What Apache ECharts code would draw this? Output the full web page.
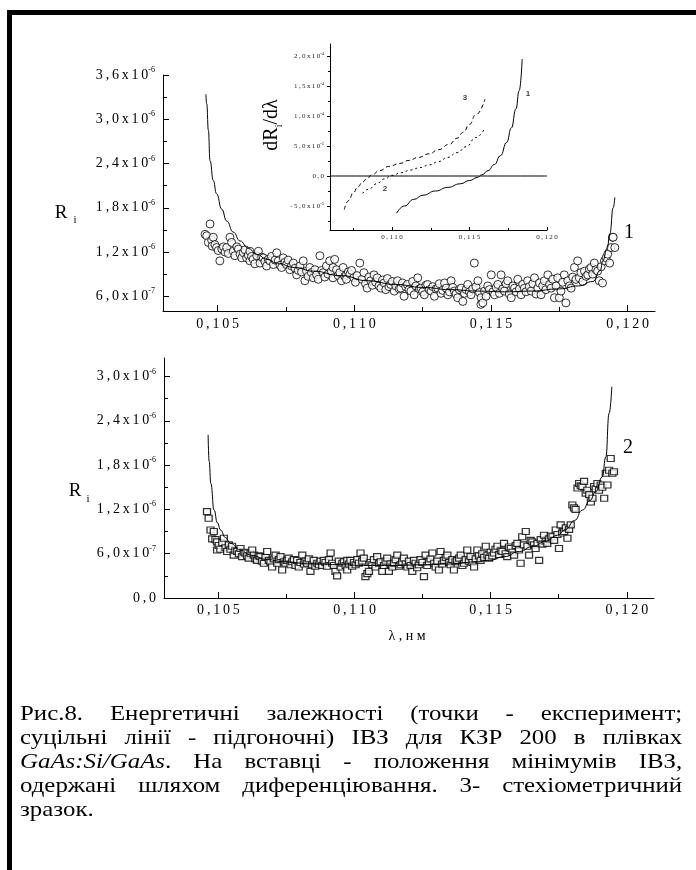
<!DOCTYPE html>
<html>
<head>
<meta charset="UTF-8">
<title>Рис.8</title>
<script src="https://cdn.jsdelivr.net/npm/echarts@6/dist/echarts.min.js"></script>
<style>
    html, body { margin: 0; padding: 0; background: #fff; }
    #page { position: relative; width: 696px; height: 870px; overflow: hidden; }
    #chart { position: absolute; left: 0; top: 0; width: 696px; height: 870px; }
    .bar { position: absolute; background: #000; }
    #caption {
        position: absolute; left: 20px; top: 701px; width: 586px;
        transform: scaleX(1.13); transform-origin: 0 0;
        font-family: "Liberation Serif", "Times New Roman", serif;
        font-size: 22px; line-height: 24px; color: #000;
    }
    #caption .ln { text-align: justify; text-align-last: justify; white-space: nowrap; }
    #caption .ln.last { text-align: left; text-align-last: left; }
</style>
</head>
<body>
<div id="page">
    <div id="chart"></div>
    <div class="bar" style="left:7px;top:10px;width:689px;height:5px"></div>
    <div class="bar" style="left:7px;top:10px;width:5px;height:860px"></div>
    <div id="caption">
        <div class="ln">Рис.8. Енергетичні залежності (точки - експеримент;</div>
        <div class="ln">суцільні лінії - підгоночні) ІВЗ для КЗР 200 в плівках</div>
        <div class="ln"><i>GaAs:Si/GaAs</i>. На вставці - положення мінімумів ІВЗ,</div>
        <div class="ln">одержані шляхом диференціювання. 3- стехіометричний</div>
        <div class="ln last">зразок.</div>
    </div>
</div>
<script>
// ---- осі ----
var wlMin = 0.103, wlMax = 0.121;
var wlMajor = [0.105, 0.110, 0.115, 0.120];
var wlMinor = [0.1075, 0.1125, 0.1175];

// R_i в одиницях 10^-6
var r1Min = 0.4, r1Max = 3.6;
var r1Major = [0.6, 1.2, 1.8, 2.4, 3.0, 3.6];
var r1Minor = [0.9, 1.5, 2.1, 2.7, 3.3];
var r2Min = 0, r2Max = 3.25;
var r2Major = [0, 0.6, 1.2, 1.8, 2.4, 3.0];
var r2Minor = [0.3, 0.9, 1.5, 2.1, 2.7];

// вставка: dR/dλ в одиницях 10^-5
var inXMin = 0.106, inXMax = 0.120;
var inXMajor = [0.110, 0.115, 0.120];
var inXMinor = [0.1075, 0.1125, 0.1175];
var inYMin = -9, inYMax = 22;
var inYMajor = [-5, 0, 5, 10, 15, 20];
var inYMinor = [-7.5, -2.5, 2.5, 7.5, 12.5, 17.5];

// ---- дані: зразок 1 (кружки) ----
var exp1 = [
[0.10454,1.44],[0.10460,1.42],[0.10466,1.33],[0.10472,1.58],[0.10478,1.36],[0.10480,1.28],[0.10484,1.40],[0.10490,1.30],
[0.10496,1.26],[0.10502,1.22],[0.10508,1.08],[0.10515,1.24],[0.10521,1.27],[0.10527,1.20],[0.10533,1.26],[0.10539,1.18],
[0.10545,1.40],[0.10551,1.33],[0.10557,1.21],[0.10563,1.15],[0.10570,1.27],[0.10576,1.24],[0.10582,1.17],[0.10588,1.12],
[0.10594,1.19],[0.10600,1.23],[0.10606,1.12],[0.10612,1.16],[0.10618,1.21],[0.10618,1.08],[0.10624,1.14],[0.10630,1.10],
[0.10636,1.04],[0.10643,1.15],[0.10649,1.21],[0.10655,1.05],[0.10661,1.13],[0.10667,1.12],[0.10673,1.07],[0.10679,1.01],
[0.10685,1.10],[0.10691,1.08],[0.10697,1.14],[0.10704,1.03],[0.10710,1.09],[0.10716,1.19],[0.10722,1.08],[0.10728,1.02],
[0.10734,0.99],[0.10740,1.12],[0.10746,1.06],[0.10752,1.03],[0.10758,1.09],[0.10764,0.96],[0.10770,1.01],[0.10777,1.05],
[0.10783,0.98],[0.10789,0.89],[0.10795,0.95],[0.10801,1.01],[0.10807,0.93],[0.10813,1.08],[0.10819,0.81],[0.10825,0.94],
[0.10831,0.87],[0.10837,0.99],[0.10843,0.92],[0.10850,0.85],[0.10856,0.96],[0.10862,0.89],[0.10868,0.83],[0.10874,1.15],
[0.10880,0.95],[0.10886,0.92],[0.10892,0.86],[0.10898,1.01],[0.10904,0.90],[0.10910,1.08],[0.10916,0.94],[0.10922,0.85],
[0.10922,0.99],[0.10928,1.10],[0.10935,0.96],[0.10941,0.88],[0.10947,0.92],[0.10953,0.81],[0.10959,0.99],[0.10965,0.87],
[0.10971,0.89],[0.10971,0.83],[0.10978,0.93],[0.10984,0.90],[0.10990,0.95],[0.10998,0.85],[0.11004,0.79],[0.11010,0.88],
[0.11020,1.05],[0.11028,0.83],[0.11035,0.92],[0.11041,0.77],[0.11047,0.71],[0.11053,0.86],[0.11060,0.81],[0.11066,0.75],
[0.11072,0.89],[0.11078,0.79],[0.11084,0.85],[0.11090,0.74],[0.11097,0.71],[0.11103,0.82],[0.11109,0.78],[0.11115,0.69],
[0.11121,0.84],[0.11127,0.73],[0.11133,0.76],[0.11139,0.80],[0.11146,0.67],[0.11152,0.74],[0.11158,0.81],[0.11164,0.70],
[0.11170,0.71],[0.11176,0.78],[0.11182,0.60],[0.11188,0.73],[0.11194,0.76],[0.11200,0.69],[0.11207,0.67],[0.11213,0.80],
[0.11219,0.62],[0.11225,0.74],[0.11232,0.85],[0.11238,0.70],[0.11244,0.71],[0.11250,0.66],[0.11256,0.62],[0.11262,0.75],
[0.11268,0.76],[0.11274,0.69],[0.11281,0.67],[0.11287,0.73],[0.11293,0.60],[0.11299,0.70],[0.11305,0.71],[0.11311,0.77],
[0.11317,0.64],[0.11323,0.68],[0.11330,0.78],[0.11336,0.71],[0.11342,0.62],[0.11348,0.66],[0.11354,0.81],[0.11360,0.72],
[0.11366,0.67],[0.11372,0.63],[0.11378,0.58],[0.11384,0.69],[0.11391,0.71],[0.11397,0.53],[0.11403,0.64],[0.11409,0.69],
[0.11415,0.76],[0.11421,0.66],[0.11427,0.62],[0.11433,0.70],[0.11439,1.05],[0.11445,0.73],[0.11452,0.81],[0.11458,0.65],
[0.11463,0.49],[0.11464,0.58],[0.11470,0.51],[0.11476,0.67],[0.11482,0.60],[0.11488,0.74],[0.11494,0.69],[0.11501,0.89],
[0.11507,0.66],[0.11513,0.62],[0.11519,0.72],[0.11525,0.76],[0.11531,0.64],[0.11537,0.89],[0.11543,0.70],[0.11549,0.67],
[0.11555,0.77],[0.11561,0.81],[0.11567,0.63],[0.11574,0.58],[0.11580,0.74],[0.11586,0.71],[0.11592,0.66],[0.11598,0.83],
[0.11604,0.70],[0.11610,0.62],[0.11616,0.76],[0.11622,0.71],[0.11628,0.66],[0.11634,0.81],[0.11640,0.73],[0.11647,0.67],
[0.11653,0.77],[0.11659,0.85],[0.11665,0.63],[0.11671,0.71],[0.11677,0.78],[0.11683,0.62],[0.11689,0.74],[0.11695,0.81],
[0.11701,0.69],[0.11708,0.89],[0.11714,0.76],[0.11720,0.71],[0.11726,0.83],[0.11732,0.58],[0.11738,0.74],[0.11744,0.85],
[0.11750,0.58],[0.11756,0.67],[0.11762,0.79],[0.11768,0.89],[0.11774,0.51],[0.11781,0.81],[0.11787,0.74],[0.11793,0.71],
[0.11799,0.86],[0.11805,0.99],[0.11811,0.83],[0.11817,1.08],[0.11823,0.85],[0.11829,0.92],[0.11836,0.80],[0.11842,0.94],
[0.11848,0.87],[0.11854,0.89],[0.11860,0.97],[0.11866,0.99],[0.11872,0.90],[0.11878,1.05],[0.11884,0.96],[0.11890,0.94],
[0.11896,0.81],[0.11903,1.00],[0.11908,0.78],[0.11915,1.08],[0.11921,1.12],[0.11927,1.17],[0.11934,1.05],[0.11939,1.26],
[0.11945,1.40],[0.11947,1.40],[0.11953,1.26]
];
var fit1 = [
[0.10457,3.34],[0.10460,3.21],[0.10466,2.85],[0.10472,2.44],[0.10484,2.17],[0.10496,1.99],[0.10515,1.78],[0.10533,1.62],
[0.10557,1.47],[0.10582,1.35],[0.10612,1.25],[0.10643,1.17],[0.10680,1.10],[0.10716,1.05],[0.10780,0.99],[0.10850,0.94],
[0.10950,0.88],[0.11050,0.81],[0.11150,0.76],[0.11250,0.72],[0.11350,0.69],[0.11450,0.67],[0.11550,0.66],[0.11650,0.67],
[0.11750,0.70],[0.11820,0.74],[0.11873,0.80],[0.11900,0.95],[0.11909,1.08],[0.11925,1.25],[0.11935,1.45],[0.11947,1.80],
[0.11953,1.94]
];

// ---- дані: зразок 2 (квадрати) ----
var exp2 = [
[0.10458,1.17],[0.10464,1.08],[0.10471,0.92],[0.10477,0.80],[0.10483,0.90],[0.10489,0.79],[0.10495,0.76],[0.10495,0.65],
[0.10501,0.71],[0.10507,0.66],[0.10514,0.75],[0.10520,0.81],[0.10526,0.68],[0.10532,0.63],[0.10538,0.72],[0.10544,0.66],
[0.10550,0.70],[0.10556,0.58],[0.10562,0.64],[0.10569,0.63],[0.10575,0.60],[0.10581,0.67],[0.10587,0.56],[0.10593,0.62],
[0.10599,0.61],[0.10605,0.57],[0.10611,0.54],[0.10618,0.60],[0.10624,0.65],[0.10630,0.58],[0.10636,0.53],[0.10642,0.51],
[0.10648,0.57],[0.10654,0.56],[0.10660,0.50],[0.10667,0.47],[0.10673,0.55],[0.10679,0.63],[0.10685,0.51],[0.10691,0.49],
[0.10697,0.42],[0.10703,0.53],[0.10710,0.58],[0.10716,0.47],[0.10722,0.52],[0.10728,0.56],[0.10734,0.38],[0.10740,0.49],
[0.10746,0.47],[0.10752,0.51],[0.10758,0.54],[0.10765,0.45],[0.10771,0.49],[0.10777,0.52],[0.10783,0.44],[0.10789,0.51],
[0.10795,0.42],[0.10801,0.48],[0.10808,0.58],[0.10814,0.46],[0.10820,0.50],[0.10826,0.47],[0.10832,0.53],[0.10838,0.36],
[0.10844,0.45],[0.10850,0.51],[0.10856,0.43],[0.10863,0.47],[0.10869,0.45],[0.10875,0.50],[0.10881,0.44],[0.10887,0.51],
[0.10893,0.48],[0.10899,0.43],[0.10906,0.52],[0.10912,0.61],[0.10918,0.47],[0.10924,0.44],[0.10930,0.36],[0.10936,0.30],
[0.10942,0.50],[0.10949,0.42],[0.10955,0.47],[0.10961,0.49],[0.10967,0.44],[0.10973,0.38],[0.10973,0.51],[0.10979,0.46],
[0.10985,0.51],[0.10991,0.43],[0.10998,0.48],[0.11004,0.45],[0.11010,0.52],[0.11016,0.47],[0.11022,0.61],[0.11028,0.50],
[0.11034,0.54],[0.11040,0.29],[0.11047,0.33],[0.11053,0.36],[0.11059,0.48],[0.11065,0.45],[0.11071,0.52],[0.11077,0.42],
[0.11083,0.56],[0.11090,0.47],[0.11096,0.49],[0.11102,0.36],[0.11108,0.44],[0.11114,0.50],[0.11120,0.54],[0.11126,0.36],
[0.11132,0.46],[0.11139,0.42],[0.11145,0.47],[0.11151,0.52],[0.11157,0.58],[0.11163,0.43],[0.11169,0.45],[0.11175,0.49],
[0.11181,0.54],[0.11188,0.46],[0.11194,0.42],[0.11200,0.50],[0.11206,0.44],[0.11212,0.36],[0.11218,0.51],[0.11224,0.47],
[0.11230,0.41],[0.11236,0.45],[0.11242,0.52],[0.11249,0.48],[0.11255,0.29],[0.11261,0.58],[0.11267,0.44],[0.11273,0.49],
[0.11279,0.53],[0.11286,0.61],[0.11292,0.47],[0.11298,0.42],[0.11304,0.50],[0.11310,0.38],[0.11316,0.63],[0.11322,0.46],
[0.11328,0.51],[0.11335,0.55],[0.11341,0.58],[0.11347,0.48],[0.11353,0.45],[0.11359,0.52],[0.11365,0.38],[0.11371,0.49],
[0.11377,0.51],[0.11384,0.54],[0.11390,0.58],[0.11396,0.44],[0.11402,0.47],[0.11408,0.52],[0.11414,0.65],[0.11420,0.50],
[0.11426,0.56],[0.11433,0.48],[0.11439,0.42],[0.11445,0.53],[0.11451,0.65],[0.11457,0.57],[0.11463,0.51],[0.11469,0.60],
[0.11476,0.55],[0.11482,0.70],[0.11488,0.58],[0.11494,0.54],[0.11500,0.62],[0.11506,0.57],[0.11512,0.61],[0.11518,0.66],
[0.11525,0.70],[0.11531,0.59],[0.11537,0.64],[0.11543,0.63],[0.11549,0.74],[0.11555,0.60],[0.11561,0.56],[0.11567,0.69],
[0.11574,0.67],[0.11580,0.62],[0.11586,0.58],[0.11592,0.71],[0.11598,0.74],[0.11604,0.65],[0.11610,0.47],[0.11616,0.83],
[0.11622,0.72],[0.11629,0.90],[0.11635,0.70],[0.11641,0.58],[0.11647,0.78],[0.11653,0.76],[0.11659,0.72],[0.11665,0.67],
[0.11672,0.74],[0.11678,0.51],[0.11684,0.79],[0.11690,0.73],[0.11696,0.85],[0.11702,0.77],[0.11708,0.74],[0.11714,0.80],
[0.11721,0.84],[0.11727,0.83],[0.11733,0.78],[0.11739,0.92],[0.11745,0.86],[0.11751,0.67],[0.11757,0.99],[0.11763,0.88],
[0.11770,0.90],[0.11776,0.95],[0.11782,0.81],[0.11788,0.93],[0.11794,0.99],[0.11800,1.26],[0.11806,1.22],[0.11812,1.20],
[0.11819,1.49],[0.11825,1.55],[0.11831,1.52],[0.11837,1.51],[0.11843,1.58],[0.11849,1.42],[0.11855,1.46],[0.11862,1.40],
[0.11868,1.30],[0.11874,1.35],[0.11880,1.51],[0.11886,1.48],[0.11892,1.55],[0.11898,1.46],[0.11904,1.53],[0.11910,1.50],
[0.11917,1.35],[0.11923,1.69],[0.11929,1.53],[0.11935,1.73],[0.11941,1.89],[0.11947,1.69],[0.11953,1.71]
];
var fit2 = [
[0.10462,2.21],[0.10466,1.85],[0.10472,1.55],[0.10484,1.19],[0.10496,1.02],[0.10508,0.92],[0.10525,0.82],[0.10545,0.74],
[0.10580,0.65],[0.10618,0.58],[0.10680,0.52],[0.10740,0.49],[0.10850,0.46],[0.10950,0.45],[0.11050,0.44],[0.11150,0.44],
[0.11250,0.45],[0.11350,0.46],[0.11450,0.49],[0.11496,0.51],[0.11550,0.56],[0.11606,0.63],[0.11655,0.70],[0.11703,0.77],
[0.11745,0.85],[0.11776,0.93],[0.11808,1.05],[0.11837,1.19],[0.11865,1.32],[0.11886,1.44],[0.11910,1.64],[0.11923,1.91],
[0.11935,2.50],[0.11945,2.86]
];

// ---- вставка: похідні ----
var der1 = [[0.1103,-6.2],[0.1108,-5.0],[0.1114,-3.9],[0.1120,-3.2],[0.1128,-2.5],[0.1136,-1.9],[0.1144,-1.3],
            [0.1150,-0.75],[0.1155,-0.25],[0.1158,0.2],[0.1162,0.9],[0.1166,1.9],[0.1170,3.4],[0.1174,5.6],
            [0.1177,8.0],[0.1180,11.2],[0.1182,14.2],[0.1184,19.5]];
var der2 = [[0.1081,-2.9],[0.1085,-2.2],[0.1090,-1.3],[0.1095,-0.5],[0.1100,0.1],[0.1106,0.55],[0.1112,1.0],
            [0.1118,1.4],[0.1124,1.85],[0.1130,2.4],[0.1136,3.1],[0.1142,3.9],[0.1148,4.9],[0.1154,6.4],[0.1160,8.05]];
var der3 = [[0.10692,-5.6],[0.10720,-4.1],[0.10750,-2.8],[0.10780,-1.8],[0.10810,-1.0],[0.10840,-0.4],[0.10870,0.2],
            [0.10920,0.9],[0.10980,1.6],[0.11050,2.1],[0.11110,2.6],[0.11170,3.1],[0.11240,3.7],[0.11300,4.4],
            [0.11370,5.3],[0.11420,6.3],[0.11460,7.3],[0.11500,8.6],[0.11540,10.2],[0.11600,12.8]];

var SERIF = '"Liberation Serif", "Times New Roman", serif';
var SANS = '"Liberation Sans", Arial, sans-serif';
var TS = '\u2009';

function spaced(s) { return s.split('').join(TS); }
function comma(v, d) { return v.toFixed(d).replace('.', ','); }

// підписи R_i (одиниці 10^-6)
function fmtR(v) {
    if (Math.abs(v) < 1e-9) return '{b|' + spaced('0,0') + '}';
    if (v < 1) return '{b|' + spaced(comma(v * 10, 1) + 'x10') + '}{s|-7}';
    return '{b|' + spaced(comma(v, 1) + 'x10') + '}{s|-6}';
}
// підписи dR/dλ (одиниці 10^-5)
function fmtD(v) {
    if (Math.abs(v) < 1e-9) return '{b|' + spaced('0,0') + '}';
    if (Math.abs(v) >= 10) return '{b|' + spaced(comma(v / 10, 1) + 'x10') + '}{s|-4}';
    return '{b|' + spaced(comma(v, 1) + 'x10') + '}{s|-5}';
}
function fmtWl(v) { return spaced(comma(v, 3)); }

var richMain = {
    b: { fontFamily: SERIF, fontSize: 14, color: '#000', lineHeight: 18 },
    s: { fontFamily: SERIF, fontSize: 8, color: '#000', lineHeight: 10, verticalAlign: 'top' }
};
var richInset = {
    b: { fontFamily: SERIF, fontSize: 7, color: '#222', lineHeight: 9 },
    s: { fontFamily: SERIF, fontSize: 4.5, color: '#222', lineHeight: 5, verticalAlign: 'top' }
};

function axis(kind, grid, min, max, major, minor, o) {
    var pos = kind === 'x' ? 'bottom' : 'left';
    var main = {
        type: 'value', gridIndex: grid, min: min, max: max, position: pos,
        axisLine: { show: true, onZero: false, lineStyle: { color: '#000', width: 1 } },
        axisTick: { show: true, inside: o.inside, length: o.tick, customValues: major,
                    lineStyle: { color: '#000', width: 1 } },
        axisLabel: { show: true, customValues: major, margin: o.margin, formatter: o.fmt,
                     fontFamily: SERIF, fontSize: o.fontSize, color: o.color, rich: o.rich },
        splitLine: { show: false }
    };
    var sub = {
        type: 'value', gridIndex: grid, min: min, max: max, position: pos,
        axisLine: { show: false, onZero: false },
        axisTick: { show: true, inside: o.inside, length: o.minorTick, customValues: minor,
                    lineStyle: { color: '#000', width: 1 } },
        axisLabel: { show: false },
        splitLine: { show: false }
    };
    return [main, sub];
}

var xAxes = [].concat(
    axis('x', 0, wlMin, wlMax, wlMajor, wlMinor, { inside: true, tick: 6, minorTick: 4, margin: 6, fmt: fmtWl, fontSize: 14, color: '#000' }),
    axis('x', 1, wlMin, wlMax, wlMajor, wlMinor, { inside: true, tick: 6, minorTick: 4, margin: 5, fmt: fmtWl, fontSize: 14, color: '#000' }),
    axis('x', 2, inXMin, inXMax, inXMajor, inXMinor, { inside: true, tick: 3, minorTick: 2, margin: 4, fmt: fmtWl, fontSize: 7, color: '#222' })
);
var yAxes = [].concat(
    axis('y', 0, r1Min, r1Max, r1Major, r1Minor, { inside: true, tick: 6, minorTick: 4, margin: 8, fmt: fmtR, rich: richMain, fontSize: 14, color: '#000' }),
    axis('y', 1, r2Min, r2Max, r2Major, r2Minor, { inside: true, tick: 6, minorTick: 4, margin: 8, fmt: fmtR, rich: richMain, fontSize: 14, color: '#000' }),
    axis('y', 2, inYMin, inYMax, inYMajor, inYMinor, { inside: false, tick: 3, minorTick: 2, margin: 6, fmt: fmtD, rich: richInset, fontSize: 7, color: '#222' })
);

function line(xi, yi, data, type, z) {
    return {
        type: 'line', xAxisIndex: xi, yAxisIndex: yi, data: data, showSymbol: false, symbol: 'none',
        smooth: true, smoothMonotone: 'x', z: z || 3,
        lineStyle: { color: '#000', width: 1, type: type || 'solid' }
    };
}

var chart = echarts.init(document.getElementById('chart'));
var option = {
    animation: false,
    backgroundColor: 'transparent',
    grid: [
        { left: 163, top: 75, width: 492, height: 236 },
        { left: 164, top: 358, width: 490, height: 240 },
        { left: 330, top: 44, width: 217, height: 186 }
    ],
    xAxis: xAxes,
    yAxis: yAxes,
    series: [
        {
            type: 'scatter', xAxisIndex: 0, yAxisIndex: 0, data: exp1, symbol: 'circle', symbolSize: 8,
            itemStyle: { color: '#fff', borderColor: '#000', borderWidth: 1 }, z: 2
        },
        line(0, 0, fit1),
        {
            type: 'scatter', xAxisIndex: 2, yAxisIndex: 2, data: exp2, symbol: 'rect', symbolSize: [7, 6],
            itemStyle: { color: '#fff', borderColor: '#000', borderWidth: 1.2 }, z: 2
        },
        line(2, 2, fit2),
        line(4, 4, [[inXMin, 0], [inXMax, 0]]),
        line(4, 4, der1),
        line(4, 4, der2, [2, 3]),
        line(4, 4, der3, [4, 3])
    ],
    graphic: [
        { type: 'text', x: 61, y: 213, style: { text: 'R', font: '19px ' + SERIF, fill: '#000', align: 'center', verticalAlign: 'middle' } },
        { type: 'text', x: 75, y: 220, style: { text: 'i', font: '11px ' + SERIF, fill: '#000', align: 'center', verticalAlign: 'middle' } },
        { type: 'text', x: 75, y: 491, style: { text: 'R', font: '19px ' + SERIF, fill: '#000', align: 'center', verticalAlign: 'middle' } },
        { type: 'text', x: 88, y: 499, style: { text: 'i', font: '11px ' + SERIF, fill: '#000', align: 'center', verticalAlign: 'middle' } },
        { type: 'text', x: 629, y: 233, style: { text: '1', font: '20px ' + SERIF, fill: '#000', align: 'center', verticalAlign: 'middle' } },
        { type: 'text', x: 628, y: 448, style: { text: '2', font: '20px ' + SERIF, fill: '#000', align: 'center', verticalAlign: 'middle' } },
        { type: 'text', x: 407, y: 636, style: { text: 'λ , н м', font: '14px ' + SERIF, fill: '#000', align: 'center', verticalAlign: 'middle' } },
        {
            type: 'text', x: 272, y: 125, rotation: Math.PI / 2,
            style: {
                text: '{a|dR}{s|i}{a|/dλ}', align: 'center', verticalAlign: 'middle',
                rich: {
                    a: { fontFamily: SERIF, fontSize: 20, lineHeight: 24, fill: '#000' },
                    s: { fontFamily: SERIF, fontSize: 10, lineHeight: 10, verticalAlign: 'bottom', fill: '#000' }
                }
            }
        },
        { type: 'text', x: 465, y: 98, style: { text: '3', font: 'bold 8px ' + SANS, fill: '#444', align: 'center', verticalAlign: 'middle' } },
        { type: 'text', x: 528, y: 94, style: { text: '1', font: 'bold 8px ' + SANS, fill: '#444', align: 'center', verticalAlign: 'middle' } },
        { type: 'text', x: 385, y: 189, style: { text: '2', font: 'bold 8px ' + SANS, fill: '#444', align: 'center', verticalAlign: 'middle' } }
    ]
};
chart.setOption(option);
</script>
</body>
</html>
